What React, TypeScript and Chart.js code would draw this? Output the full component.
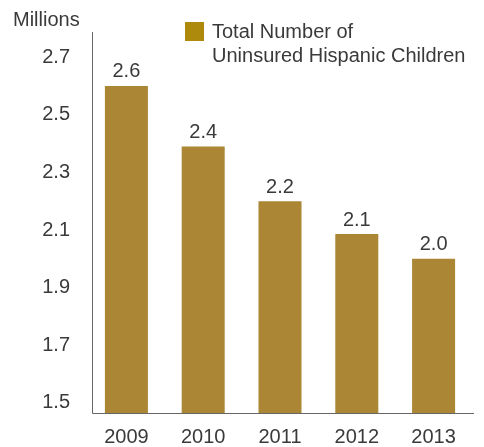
import React, { useEffect, useRef } from "react";
import { Chart, registerables } from "chart.js";

Chart.register(...registerables);

const categories = ["2009", "2010", "2011", "2012", "2013"];
const values = [2.6, 2.39, 2.2, 2.086, 2.0];
const valueLabels = ["2.6", "2.4", "2.2", "2.1", "2.0"];
const yTicks = [1.5, 1.7, 1.9, 2.1, 2.3, 2.5, 2.7];
const seriesName = ["Total Number of", "Uninsured Hispanic Children"];
const unitLabel = "Millions";

const FONT = "'Liberation Sans', Arial, Helvetica, sans-serif";
const TEXT = "#3a3a3a";
const BAR = "#ab8634";
const LEGEND_BOX = "#ad8a0b";
const AXIS = "#666666";

const overlayPlugin = {
  id: "overlay",
  afterDraw(chart: any) {
    const ctx = chart.ctx;
    const area = chart.chartArea;
    ctx.save();
    // axis lines
    ctx.strokeStyle = AXIS;
    ctx.lineWidth = 1;
    ctx.beginPath();
    ctx.moveTo(92.5, area.top);
    ctx.lineTo(92.5, area.bottom + 0.5);
    ctx.lineTo(474, area.bottom + 0.5);
    ctx.stroke();

    ctx.fillStyle = TEXT;
    ctx.font = `20px ${FONT}`;
    ctx.textBaseline = "middle";

    // unit label
    ctx.textAlign = "left";
    ctx.fillText(unitLabel, 13, 20);

    // legend
    ctx.fillStyle = LEGEND_BOX;
    ctx.fillRect(185, 22, 19, 19);
    ctx.fillStyle = TEXT;
    seriesName.forEach((line, i) => {
      ctx.fillText(line, 212, 32 + i * 24.5);
    });

    // value labels
    ctx.textAlign = "center";
    const meta = chart.getDatasetMeta(0);
    meta.data.forEach((bar: any, i: number) => {
      ctx.fillText(valueLabels[i], bar.x, bar.y - 14);
    });
    ctx.restore();
  },
};

export default function App() {
  const ref = useRef<HTMLCanvasElement | null>(null);

  useEffect(() => {
    if (!ref.current) return;
    const chart = new Chart(ref.current, {
      type: "bar",
      data: {
        labels: categories,
        datasets: [
          {
            label: seriesName.join(" "),
            data: values,
            backgroundColor: BAR,
            borderWidth: 0,
            barPercentage: 0.56,
            categoryPercentage: 1,
          },
        ],
      },
      options: {
        animation: false,
        responsive: true,
        maintainAspectRatio: false,
        layout: { padding: { top: 32, left: 0, right: 12, bottom: 0 } },
        plugins: {
          legend: { display: false },
          tooltip: { enabled: false },
          title: { display: false },
        },
        scales: {
          x: {
            grid: { display: false, drawTicks: false },
            border: { display: false },
            ticks: {
              color: TEXT,
              font: { size: 20, family: FONT },
              padding: 12,
              maxRotation: 0,
            },
            afterFit: (s: any) => {
              s.height = 34;
            },
          },
          y: {
            min: 1.465,
            max: 2.787,
            grid: { display: false, drawTicks: false },
            border: { display: false },
            ticks: {
              color: TEXT,
              font: { size: 20, family: FONT },
              padding: 18,
              callback: (v: any) => Number(v).toFixed(1),
            },
            afterBuildTicks: (s: any) => {
              s.ticks = yTicks.map((v) => ({ value: v }));
            },
            afterFit: (s: any) => {
              s.width = 88;
            },
          },
        },
      },
      plugins: [overlayPlugin],
    });
    return () => chart.destroy();
  }, []);

  return (
    <div style={{ position: "absolute", left: 0, top: 0, width: 484, height: 447 }}>
      <canvas ref={ref} />
    </div>
  );
}
